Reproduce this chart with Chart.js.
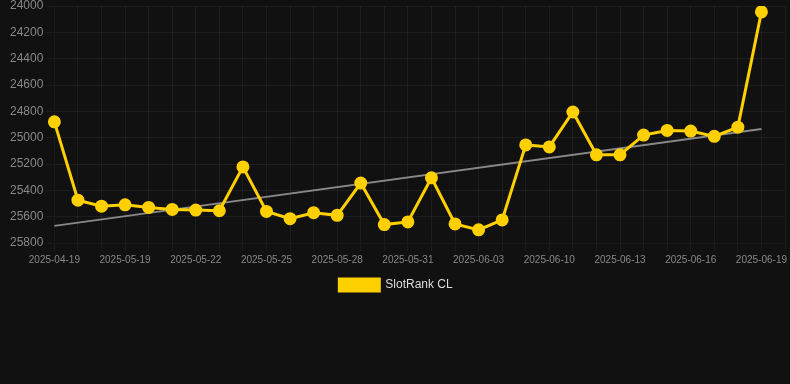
<!DOCTYPE html>
<html>
<head>
<meta charset="utf-8">
<script src="https://cdn.jsdelivr.net/npm/chart.js@4"></script>
<style>
  html, body { margin: 0; padding: 0; background: #111111; }
  #wrap { position: relative; width: 790px; height: 301px; }
</style>
</head>
<body>
<div id="wrap"><canvas id="rankChart"></canvas></div>
<script>
const dates = [
  '2025-04-19', '2025-05-17', '2025-05-18', '2025-05-19', '2025-05-20', '2025-05-21',
  '2025-05-22', '2025-05-23', '2025-05-24', '2025-05-25', '2025-05-26', '2025-05-27',
  '2025-05-28', '2025-05-29', '2025-05-30', '2025-05-31', '2025-06-01', '2025-06-02',
  '2025-06-03', '2025-06-04', '2025-06-09', '2025-06-10', '2025-06-11', '2025-06-12',
  '2025-06-13', '2025-06-14', '2025-06-15', '2025-06-16', '2025-06-17', '2025-06-18',
  '2025-06-19', ''
];
const ranks = [
  24880, 25475, 25520, 25510, 25530, 25545, 25550, 25555, 25222, 25560, 25615,
  25570, 25590, 25345, 25660, 25640, 25305, 25655, 25700, 25625, 25055, 25070,
  24805, 25130, 25130, 24980, 24945, 24950, 24990, 24920, 24045
];
// trend line: first and last point only
const trendStart = 25670;
const trendEnd = 24935;
const yTicks = { min: 24000, max: 25800, step: 200 };

const gold = '#FFD000';
const trend = ranks.map((v, i) => i === 0 ? trendStart : (i === ranks.length - 1 ? trendEnd : null));

const ctx = document.getElementById('rankChart').getContext('2d');
new Chart(ctx, {
  type: 'line',
  data: {
    labels: dates,
    datasets: [
      {
        label: 'SlotRank CL',
        data: ranks,
        borderColor: gold,
        backgroundColor: gold,
        borderWidth: 3,
        pointRadius: 5,
        pointHoverRadius: 6,
        tension: 0
      },
      {
        label: 'trend',
        data: trend,
        borderColor: 'rgba(150,150,150,0.9)',
        borderWidth: 2,
        pointRadius: 0,
        spanGaps: true,
        tension: 0
      }
    ]
  },
  options: {
    responsive: true,
    maintainAspectRatio: false,
    animation: false,
    layout: { autoPadding: false, padding: { left: 7, top: 6, right: 5 } },
    plugins: {
      legend: {
        position: 'bottom',
        labels: {
          color: '#dddddd',
          font: { family: 'Liberation Sans, Arial', size: 12 },
          filter: item => item.text !== 'trend'
        }
      },
      tooltip: { enabled: false }
    },
    scales: {
      x: {
        grid: { color: 'rgba(255,255,255,0.05)' },
        ticks: {
          color: '#888888',
          font: { family: 'Liberation Sans, Arial', size: 10 },
          maxRotation: 0,
          autoSkip: false,
          callback: function (val, idx) { return idx % 3 === 0 ? this.getLabelForValue(val) : ''; }
        }
      },
      y: {
        reverse: true,
        min: yTicks.min,
        max: yTicks.max,
        grid: { color: 'rgba(255,255,255,0.05)' },
        afterFit: scale => { scale.paddingTop = 0; },
        ticks: {
          color: '#888888',
          stepSize: yTicks.step,
          font: { family: 'Liberation Sans, Arial', size: 12, lineHeight: 1 },
          callback: v => String(v)
        }
      }
    }
  }
});
</script>
</body>
</html>
